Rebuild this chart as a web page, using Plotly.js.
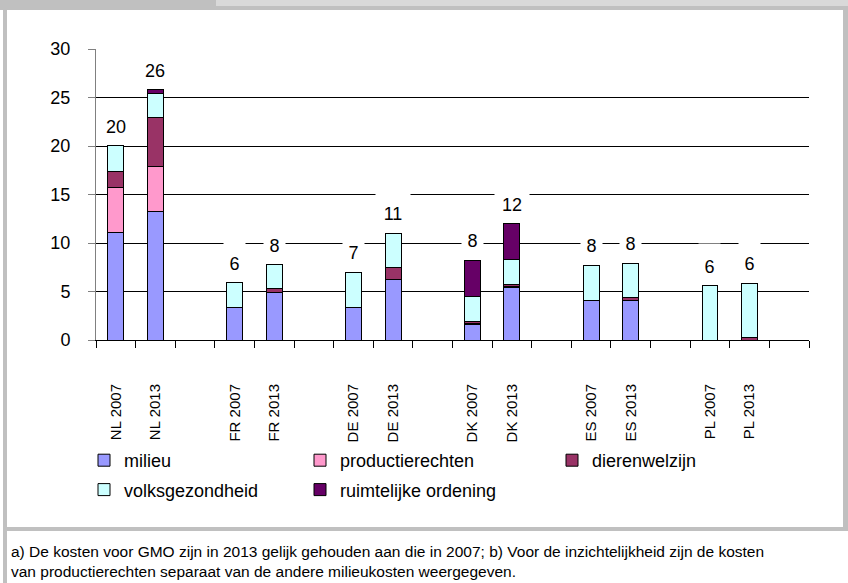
<!DOCTYPE html>
<html>
<head>
<meta charset="utf-8">
<script src="https://cdn.plot.ly/plotly-3.0.1.min.js"></script>
<style>
html,body{margin:0;padding:0;background:#fff;}
#chart{width:848px;height:583px;}
</style>
</head>
<body>
<div id="chart"></div>
<script>
// ---- data ----
var categories = ["NL 2007","NL 2013"," ","FR 2007","FR 2013","  ","DE 2007","DE 2013","   ",
                  "DK 2007","DK 2013","    ","ES 2007","ES 2013","     ","PL 2007","PL 2013","      "];
var milieu           = [11.1, 13.2, null, 3.3, 4.9, null, 3.4, 6.2, null, 1.6, 5.4, null, 4.05, 4.05, null, null, null, null];
var productierechten = [4.6, 4.65, null, null, null, null, null, null, null, 0.1, 0.1, null, null, null, null, null, null, null];
var dierenwelzijn    = [1.7, 5.05, null, null, 0.38, null, null, 1.27, null, 0.25, 0.25, null, null, 0.38, null, null, 0.28, null];
var volksgezondheid  = [2.65, 2.5, null, 2.58, 2.47, null, 3.58, 3.54, null, 2.5, 2.5, null, 3.65, 3.5, null, 5.57, 5.56, null];
var ruimtelijke      = [null, 0.41, null, null, null, null, null, null, null, 3.75, 3.75, null, null, null, null, null, null, null];
var yTicks = [0, 5, 10, 15, 20, 25, 30];
var footnote = "a) De kosten voor GMO zijn in 2013 gelijk gehouden aan die in 2007; b) Voor de inzichtelijkheid zijn de kosten<br>van productierechten separaat van de andere milieukosten weergegeven.";

// ---- geometry helpers (pixel -> paper) ----
var L = 96, R = 809, T = 49, B = 340;
function PX(px){ return (px - L) / (R - L); }
function PY(py){ return (B - py) / (B - T); }

var series = [
  {name:"milieu", y:milieu, color:"#9999FF", legend:"legend"},
  {name:"productierechten", y:productierechten, color:"#FF99CC", legend:"legend2"},
  {name:"dierenwelzijn", y:dierenwelzijn, color:"#993366", legend:"legend3"},
  {name:"volksgezondheid", y:volksgezondheid, color:"#CCFFFF", legend:"legend"},
  {name:"ruimtelijke ordening", y:ruimtelijke, color:"#660066", legend:"legend2"}
];

var traces = series.map(function(s){
  return {
    type:"bar", x:categories, y:s.y, name:s.name, legend:s.legend,
    legendgroup:s.name,
    marker:{color:s.color, line:{color:"#000", width:1}},
    hoverinfo:"skip"
  };
});

// totals for data labels
var annotations = [];
categories.forEach(function(c, i){
  var tot = 0, any = false;
  series.forEach(function(s){ if (s.y[i] != null){ tot += s.y[i]; any = true; } });
  if (!any) return;
  var txt = String(Math.round(tot));
  annotations.push({
    x:c, y:tot, xref:"x", yref:"y", text:txt, showarrow:false,
    yanchor:"bottom", yshift:8, height:33, valign:"bottom",
    width: txt.length > 1 ? 34 : 21,
    bgcolor:"#ffffff", borderpad:0,
    font:{family:"Arial, Liberation Sans, sans-serif", size:18, color:"#000"}
  });
});
annotations.push({
  xref:"paper", yref:"paper", x:PX(9), y:PY(561), xanchor:"left", yanchor:"middle",
  align:"left", showarrow:false, text:footnote,
  font:{family:"Arial, Liberation Sans, sans-serif", size:15.5, color:"#000"}
});

var gray = "#c0c0c0";
var shapes = [
  {type:"rect", xref:"paper", yref:"paper", x0:PX(0), x1:PX(848), y0:PY(0), y1:PY(6), fillcolor:"#d9d9d9", line:{width:0}},
  {type:"rect", xref:"paper", yref:"paper", x0:PX(0), x1:PX(216), y0:PY(0), y1:PY(6), fillcolor:gray, line:{width:0}},
  {type:"rect", xref:"paper", yref:"paper", x0:PX(0), x1:PX(848), y0:PY(6), y1:PY(10), fillcolor:gray, line:{width:0}},
  {type:"rect", xref:"paper", yref:"paper", x0:PX(3), x1:PX(7), y0:PY(6), y1:PY(583), fillcolor:gray, line:{width:0}},
  {type:"rect", xref:"paper", yref:"paper", x0:PX(843), x1:PX(848), y0:PY(6), y1:PY(531), fillcolor:gray, line:{width:0}},
  {type:"rect", xref:"paper", yref:"paper", x0:PX(7), x1:PX(848), y0:PY(527), y1:PY(531), fillcolor:gray, line:{width:0}}
];

var legFont = {family:"Arial, Liberation Sans, sans-serif", size:18, color:"#000"};
function leg(xpx){
  return {x:PX(xpx), y:PY(442), xanchor:"left", yanchor:"top", orientation:"v",
          bgcolor:"rgba(0,0,0,0)", font:legFont, traceorder:"grouped", tracegroupgap:3,
          itemclick:false, itemdoubleclick:false};
}

var layout = {
  width:848, height:583,
  margin:{l:L, r:848-R, t:T, b:583-B, pad:0},
  paper_bgcolor:"#ffffff", plot_bgcolor:"#ffffff",
  barmode:"stack", bargap:0.6,
  showlegend:true,
  legend:leg(84), legend2:leg(300), legend3:leg(552),
  xaxis:{
    type:"category", categoryorder:"array", categoryarray:categories,
    range:[-0.5, categories.length - 0.5],
    tickangle:-90, ticks:"outside", tickson:"boundaries", ticklen:7, tickcolor:"#000",
    showline:true, linecolor:"#000", linewidth:1, showgrid:false,
    ticklabelstandoff:37,
    tickfont:{family:"Arial, Liberation Sans, sans-serif", size:15, color:"#000"}
  },
  yaxis:{
    range:[0,30], tickvals:yTicks, ticks:"outside", ticklen:7, tickcolor:"#808080",
    showline:true, linecolor:"#808080", linewidth:1,
    showgrid:true, gridcolor:"#000", gridwidth:1, zeroline:false,
    ticklabelstandoff:14,
    tickfont:{family:"Arial, Liberation Sans, sans-serif", size:18, color:"#000"}
  },
  annotations:annotations,
  shapes:shapes
};

Plotly.newPlot("chart", traces, layout, {staticPlot:true, displayModeBar:false});
</script>
</body>
</html>
